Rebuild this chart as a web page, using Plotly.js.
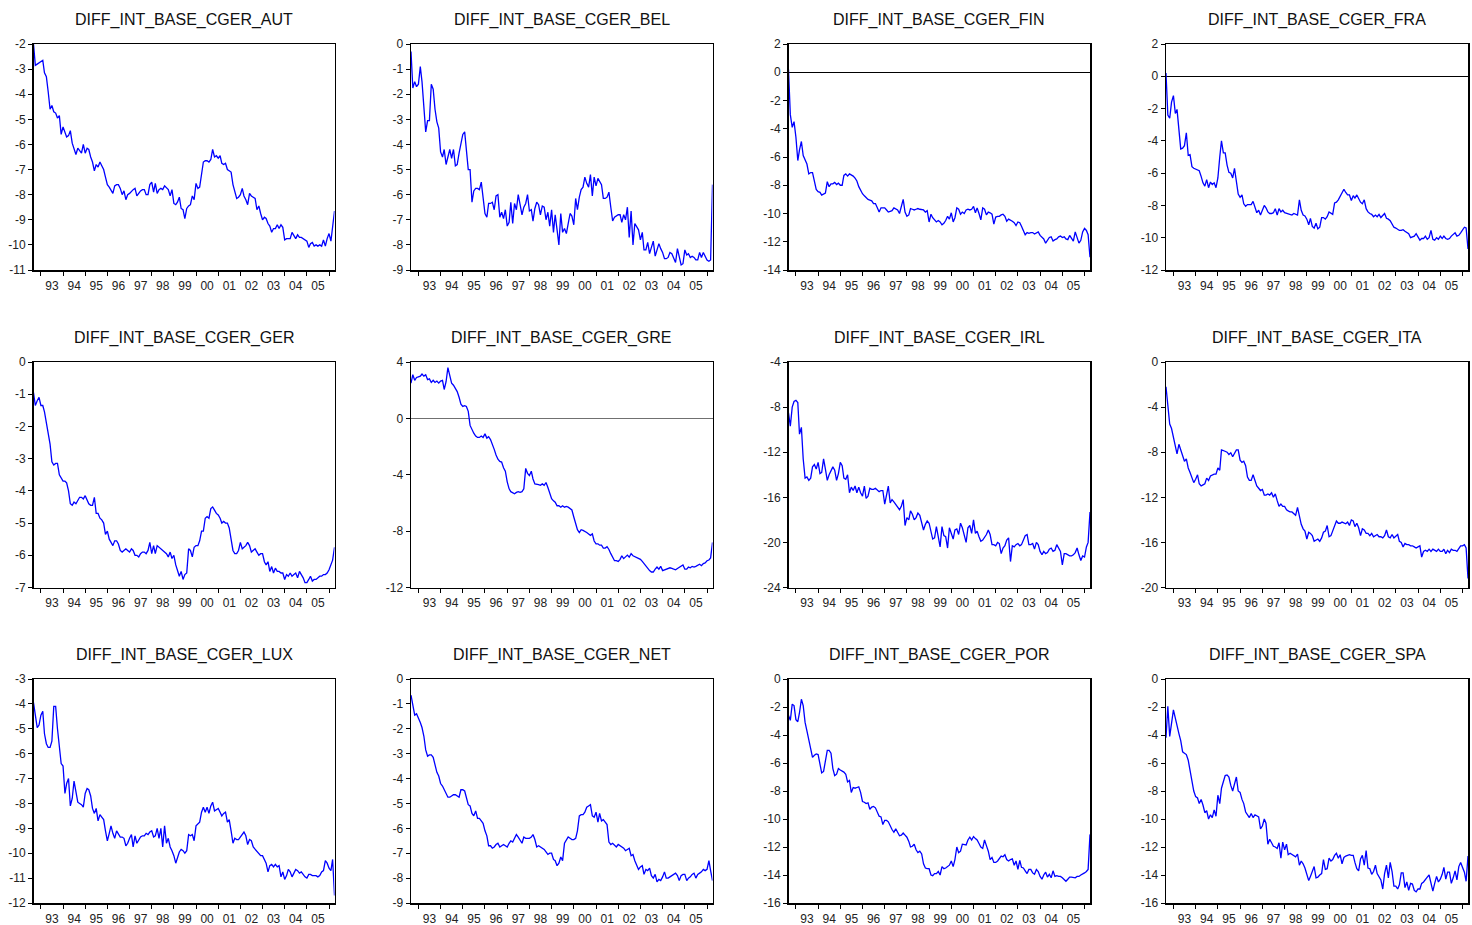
<!DOCTYPE html>
<html>
<head>
<meta charset="utf-8">
<script src="https://cdn.plot.ly/plotly-3.0.1.min.js"></script>
<style>
  html, body { margin: 0; padding: 0; background: #ffffff; }
  #chart { width: 1472px; height: 925px; }
</style>
</head>
<body>
<div id="chart"></div>
<script>
// Monthly sample: 1992M09 .. 2006M04
const START_YEAR = 1992;
const START_MONTH = 9;
const N_OBS = 164;

const countries = ['AUT', 'BEL', 'FIN', 'FRA', 'GER', 'GRE', 'IRL', 'ITA', 'LUX', 'NET', 'POR', 'SPA'];

// Interest differential series, one value per month (one line per calendar year)
const AUT = [
  -2.0, -2.85, -2.8, -2.75,
  -2.7, -2.65, -3.15, -3.3, -3.9, -4.6, -4.45, -4.7, -4.75, -4.95, -4.85, -5.6,
  -5.3, -5.55, -5.7, -5.65, -5.45, -5.95, -6.2, -6.4, -6.15, -6.25, -6.35, -6.0,
  -6.35, -6.15, -6.2, -6.5, -6.7, -7.05, -6.8, -6.9, -6.7, -6.85, -7.0, -7.3,
  -7.6, -7.7, -7.8, -7.95, -7.65, -7.6, -7.6, -7.75, -8.0, -7.85, -8.2, -8.0,
  -7.95, -7.85, -7.8, -7.75, -8.05, -7.95, -7.85, -7.8, -7.8, -8.0, -8.0, -7.6,
  -7.5, -7.9, -7.55, -7.95, -7.8, -7.75, -7.8, -7.65, -7.75, -7.8, -8.05, -7.8,
  -8.35, -8.4, -8.3, -8.1, -8.55, -8.6, -8.95, -8.55, -8.45, -8.4, -8.05, -8.2,
  -7.55, -7.75, -7.7, -7.25, -6.7, -6.65, -6.65, -6.7, -6.6, -6.2, -6.5, -6.45,
  -6.55, -6.45, -6.75, -6.8, -6.75, -7.0, -7.05, -7.1, -7.6, -7.9, -8.15, -8.1,
  -8.0, -7.75, -8.05, -8.2, -8.4, -7.95, -8.05, -8.1, -8.15, -8.6, -8.45, -8.75,
  -9.0, -8.9, -8.95, -9.15, -9.25, -9.5, -9.35, -9.35, -9.2, -9.35, -9.2, -9.3,
  -9.8, -9.75, -9.75, -9.75, -9.5, -9.65, -9.75, -9.6, -9.7, -9.7, -9.75, -9.8,
  -9.85, -10.1, -9.95, -9.9, -10.05, -10.0, -10.05, -10.0, -10.05, -9.8, -10.05, -9.75,
  -9.55, -9.85, -9.3, -8.65
];

const BEL = [
  -0.3, -1.75, -1.5, -1.7,
  -1.6, -0.9, -1.5, -2.5, -3.5, -3.05, -3.05, -1.6, -1.8, -2.6, -3.1, -3.35,
  -4.3, -4.5, -4.2, -4.8, -4.5, -4.2, -4.55, -4.2, -4.85, -4.8, -4.35, -3.9,
  -3.6, -3.5, -4.4, -5.0, -5.0, -6.3, -5.85, -5.75, -5.75, -5.8, -5.5, -6.1,
  -6.75, -6.9, -6.35, -6.35, -6.3, -6.6, -6.05, -6.0, -6.9, -6.7, -6.95, -6.6,
  -7.25, -7.1, -6.3, -7.15, -6.35, -6.6, -6.0, -6.4, -6.8, -6.5, -6.35, -6.0,
  -6.65, -6.6, -7.05, -6.55, -6.3, -6.4, -6.8, -6.45, -6.5, -7.0, -6.7, -7.25,
  -6.6, -7.5, -6.8, -7.4, -8.0, -6.75, -7.5, -7.35, -7.55, -7.15, -6.75, -6.85,
  -7.2, -6.15, -6.6, -6.1, -5.8, -5.7, -5.3, -5.55, -5.7, -5.2, -6.05, -5.3,
  -5.65, -5.35, -5.5, -5.6, -6.15, -6.15, -6.1, -5.9, -6.5, -7.05, -6.9, -6.85,
  -6.8, -6.8, -7.1, -6.8, -7.0, -6.5, -7.7, -6.65, -8.0, -7.15, -7.3, -7.4,
  -7.8, -7.5, -8.2, -8.2, -7.9, -8.35, -8.1, -7.85, -8.45, -8.2, -7.95, -8.15,
  -8.3, -8.55, -8.55, -8.5, -8.3, -8.35, -8.5, -8.7, -8.15, -8.5, -8.8, -8.75,
  -8.2, -8.4, -8.35, -8.5, -8.45, -8.5, -8.6, -8.6, -8.3, -8.5, -8.3, -8.45,
  -8.6, -8.65, -8.6, -5.6
];

const FIN = [
  0.2, -3.0, -3.9, -3.5,
  -4.6, -6.25, -5.5, -4.9, -5.9, -6.2, -6.5, -7.2, -7.1, -7.1, -7.8, -8.3,
  -8.45, -8.5, -8.7, -8.6, -8.55, -7.75, -8.1, -7.9, -7.9, -7.8, -7.95, -7.85,
  -8.0, -8.0, -7.3, -7.2, -7.35, -7.2, -7.25, -7.35, -7.5, -7.7, -8.1, -8.4,
  -8.6, -8.75, -8.9, -9.0, -9.05, -9.1, -9.3, -9.3, -9.6, -9.9, -9.6, -9.6,
  -9.6, -9.75, -9.9, -9.85, -9.8, -9.6, -9.7, -9.75, -10.0, -9.4, -9.0, -9.9,
  -10.2, -10.1, -9.65, -9.7, -9.75, -9.7, -9.65, -9.7, -9.7, -9.75, -9.9, -9.8,
  -10.6, -10.05, -10.3, -10.5, -10.6, -10.5, -10.6, -10.8, -10.7, -10.5, -10.2, -10.4,
  -9.95, -10.6, -10.3, -9.6, -9.7, -10.05, -9.9, -10.0, -9.75, -9.7, -9.75, -9.7,
  -9.5, -9.95, -9.6, -10.0, -10.45, -9.6, -9.7, -10.1, -9.9, -9.95, -10.05, -10.75,
  -10.25, -10.2, -10.2, -10.1, -10.05, -10.2, -10.55, -10.4, -10.45, -10.55, -10.65, -10.85,
  -10.6, -10.65, -10.9, -11.2, -11.5, -11.35, -11.4, -11.35, -11.35, -11.45, -11.35, -11.3,
  -11.55, -11.7, -11.8, -12.1, -11.9, -11.7, -11.65, -11.95, -11.85, -11.8, -11.65, -11.6,
  -11.7, -11.65, -11.8, -11.85, -11.55, -11.8, -11.95, -11.3, -11.8, -12.1, -11.9, -11.3,
  -11.05, -11.2, -11.5, -13.1
];

const FRA = [
  0.2, -2.4, -2.6, -1.6,
  -1.2, -2.3, -2.05, -3.3, -4.5, -4.45, -4.3, -3.5, -4.9, -4.85, -5.6, -5.7,
  -5.75, -5.8, -5.85, -6.2, -6.6, -6.8, -6.4, -6.9, -6.55, -6.7, -6.6, -6.9,
  -6.3, -5.0, -4.0, -4.75, -4.75, -5.5, -5.95, -6.0, -6.3, -5.7, -6.5, -7.3,
  -7.5, -7.35, -7.9, -8.05, -7.95, -7.95, -7.95, -7.75, -8.1, -8.45, -8.3, -8.6,
  -8.3, -8.0, -8.15, -8.4, -8.5, -8.5, -8.45, -8.2, -8.6, -8.2, -8.4, -8.3,
  -8.45, -8.5, -8.55, -8.6, -8.6, -8.5, -8.55, -8.6, -7.65, -8.3, -8.6, -8.65,
  -8.85, -9.2, -8.8, -9.3, -9.4, -9.1, -9.45, -9.35, -8.75, -8.75, -8.85, -8.7,
  -8.4, -8.5, -8.55, -7.85, -7.8, -7.65, -7.45, -7.2, -7.0, -7.2, -7.35, -7.35,
  -7.7, -7.4, -7.55, -7.35, -7.6, -7.8, -7.9, -7.65, -8.2, -8.4, -8.5, -8.55,
  -8.7, -8.6, -8.7, -8.55, -8.75, -8.6, -8.5, -8.8, -8.85, -8.95, -9.2, -9.35,
  -9.4, -9.5, -9.55, -9.55, -9.5, -9.6, -9.65, -9.75, -10.0, -9.95, -9.9, -9.75,
  -9.95, -10.15, -10.05, -10.05, -9.9, -10.1, -10.0, -9.55, -10.1, -10.15, -10.0, -10.1,
  -9.9, -10.05, -9.9, -10.05, -10.1, -10.05, -9.9, -9.8, -9.7, -9.9, -9.85, -9.7,
  -9.5, -9.35, -9.4, -10.7
];

const GER = [
  -0.95, -1.35, -1.2, -1.1,
  -1.35, -1.35, -1.55, -1.9, -2.3, -2.55, -3.1, -3.2, -3.15, -3.15, -3.5, -3.6,
  -3.7, -3.7, -3.75, -4.0, -4.4, -4.45, -4.35, -4.4, -4.3, -4.2, -4.2, -4.25,
  -4.15, -4.3, -4.4, -4.45, -4.45, -4.2, -4.7, -4.7, -4.85, -4.9, -5.0, -5.35,
  -5.25, -5.5, -5.6, -5.7, -5.55, -5.55, -5.65, -5.85, -5.9, -5.85, -5.8, -5.85,
  -5.9, -5.8, -5.85, -6.0, -6.0, -6.05, -5.95, -5.9, -5.9, -5.95, -5.85, -5.6,
  -5.95, -5.7, -5.95, -5.7, -5.75, -5.8, -5.85, -5.9, -5.95, -6.05, -5.9, -6.1,
  -6.0, -6.3, -6.5, -6.65, -6.5, -6.75, -6.6, -6.55, -5.8, -5.85, -6.05, -5.75,
  -5.7, -5.7, -5.55, -5.25, -5.25, -4.85, -4.8, -4.85, -4.55, -4.5, -4.6, -4.7,
  -4.75, -4.85, -5.0, -4.95, -5.0, -5.0, -5.15, -5.5, -5.85, -5.95, -5.95, -5.85,
  -5.6, -5.8, -5.75, -5.7, -5.6, -5.7, -5.9, -5.85, -5.8, -5.9, -6.0, -5.95,
  -5.95, -6.2, -6.3, -6.2, -6.5, -6.35, -6.55, -6.4, -6.5, -6.5, -6.55, -6.55,
  -6.75, -6.6, -6.65, -6.55, -6.65, -6.6, -6.55, -6.7, -6.5, -6.6, -6.7, -6.85,
  -6.85, -6.75, -6.65, -6.8, -6.75, -6.75, -6.7, -6.65, -6.65, -6.6, -6.6, -6.55,
  -6.45, -6.3, -6.15, -5.75
];

const GRE = [
  2.5, 3.1, 2.7, 2.9,
  2.95, 3.0, 3.15, 3.0, 3.1, 2.75, 2.8, 2.55, 2.7, 2.55, 2.65, 2.5,
  2.65, 2.7, 2.05, 2.6, 3.6, 3.0, 2.5, 2.35, 2.1, 1.9, 1.5, 1.0,
  0.85, 0.9, 0.85, 0.5, -0.5, -0.8, -1.05, -1.25, -1.35, -1.35, -1.25, -1.35,
  -1.1, -1.4, -1.3, -1.5, -1.8, -2.2, -2.6, -2.9, -3.05, -3.1, -3.5, -3.75,
  -4.5, -5.0, -5.2, -5.3, -5.35, -5.25, -5.2, -5.25, -5.2, -5.0, -3.55, -3.9,
  -4.05, -3.75, -4.3, -4.65, -4.65, -4.7, -4.75, -4.65, -4.75, -4.55, -4.9, -5.3,
  -5.7, -5.85, -5.95, -6.2, -6.2, -6.3, -6.2, -6.3, -6.25, -6.3, -6.4, -6.5,
  -7.0, -7.5, -7.9, -8.1, -7.9, -7.95, -8.0, -8.1, -8.2, -8.3, -8.2, -8.7,
  -8.9, -8.9, -9.0, -9.0, -9.2, -9.2, -9.1, -9.3, -9.6, -9.9, -10.1, -10.1,
  -10.15, -10.0, -9.75, -9.95, -9.8, -9.7, -9.85, -9.6, -9.75, -9.8, -9.85, -9.9,
  -10.0, -10.15, -10.3, -10.5, -10.65, -10.8, -10.9, -10.9, -10.7, -10.55, -10.7, -10.5,
  -10.8, -10.75, -10.7, -10.7, -10.6, -10.65, -10.7, -10.75, -10.65, -10.55, -10.5, -10.4,
  -10.7, -10.7, -10.55, -10.6, -10.5, -10.55, -10.5, -10.4, -10.35, -10.45, -10.3, -10.25,
  -10.1, -10.05, -9.9, -8.8
];

const IRL = [
  -8.5, -9.7, -8.0, -7.5,
  -7.4, -7.6, -10.4, -9.8, -12.6, -14.3, -14.2, -14.5, -14.3, -13.3, -13.1, -13.5,
  -12.9, -13.9, -13.8, -12.6, -13.5, -14.5, -14.0, -13.6, -13.3, -13.6, -14.5, -13.9,
  -12.9, -13.2, -14.3, -14.4, -14.0, -15.6, -15.1, -15.4, -15.0, -15.6, -15.1, -15.6,
  -15.9, -15.0, -16.1, -15.9, -15.2, -15.3, -15.3, -15.2, -15.4, -15.5, -15.4, -15.4,
  -16.6, -15.6, -15.0, -16.5, -16.2, -16.4, -16.6, -16.8, -17.1, -16.8, -16.2, -18.5,
  -17.8, -18.0, -17.2, -17.5, -18.0, -17.8, -17.4, -17.6, -18.3, -18.9, -18.4, -18.1,
  -18.3, -19.0, -19.7, -19.6, -18.6, -19.5, -20.4, -18.6, -19.4, -19.5, -20.5, -18.7,
  -19.2, -19.7, -18.9, -18.8, -19.3, -18.3, -18.7, -19.3, -20.0, -18.7, -18.5, -19.2,
  -18.0, -19.2, -19.0, -19.5, -19.9, -19.8, -19.6, -19.3, -18.9, -19.3, -20.2, -20.2,
  -20.3, -20.0, -20.1, -21.0, -20.5, -20.3, -19.8, -19.6, -21.7, -20.3, -20.4, -20.2,
  -20.1, -20.3, -20.2, -19.8, -19.4, -19.3, -20.2, -20.2, -20.1, -20.6, -20.0, -20.2,
  -20.8, -21.1, -20.8, -21.0, -20.9, -20.6, -20.5, -20.8, -20.7, -20.2, -20.5, -20.8,
  -22.0, -21.0, -21.0, -21.1, -21.2, -21.2, -21.1, -20.9, -20.5, -21.1, -21.6, -21.2,
  -21.3, -20.4, -20.0, -17.3
];

const ITA = [
  -2.2, -4.2, -5.5, -5.9,
  -6.6, -7.5, -8.15, -7.3, -7.8, -8.2, -8.8, -8.6, -9.4, -9.8, -10.3, -10.7,
  -10.4, -10.0, -10.8, -11.0, -10.9, -10.8, -10.3, -10.5, -10.1, -10.0, -9.95, -9.95,
  -9.4, -9.6, -7.8, -7.85, -7.9, -8.0, -8.2, -8.05, -8.4, -8.1, -7.8, -7.8,
  -8.7, -8.9, -8.8, -9.2, -10.2, -10.5, -10.5, -10.0, -10.6, -11.0, -11.2, -11.4,
  -11.3, -11.8, -11.8, -11.7, -11.8, -11.6, -12.0, -11.7, -12.3, -12.8, -12.6, -12.8,
  -12.8, -13.1, -13.2, -13.3, -13.3, -13.5, -13.6, -12.9, -13.6, -14.4, -14.8, -15.0,
  -15.7, -15.1, -15.2, -15.4, -15.9, -15.8, -15.7, -15.9, -15.6, -15.1, -15.0, -14.5,
  -15.5, -15.4, -15.0, -14.6, -14.1, -14.3, -14.3, -14.2, -14.3, -14.35, -14.2, -14.5,
  -14.0, -14.1, -14.6, -14.3, -14.7, -15.4, -14.8, -14.9, -15.2, -15.2, -15.4, -15.2,
  -15.5, -15.4, -15.3, -15.5, -15.5, -15.6, -15.4, -14.9, -15.5, -15.6, -15.3, -15.6,
  -15.4, -15.3, -15.9, -16.0, -16.4, -16.1, -16.2, -16.2, -16.3, -16.3, -16.4, -16.5,
  -16.4, -16.3, -17.3, -16.8, -16.7, -16.8, -16.6, -16.8, -16.6, -16.7, -16.8, -16.6,
  -16.8, -16.8, -16.6, -17.0, -16.7, -16.9, -16.6, -16.7, -16.7, -16.8, -16.5, -16.3,
  -16.3, -16.2, -16.5, -19.2
];

const LUX = [
  -3.95, -4.5, -4.95, -4.85,
  -4.45, -4.3, -5.2, -5.6, -5.75, -5.75, -5.5, -4.1, -4.1, -5.0, -5.6, -6.4,
  -6.5, -7.6, -7.2, -7.0, -8.1, -7.8, -7.1, -7.6, -7.95, -8.0, -8.05, -8.15,
  -7.6, -7.4, -7.45, -7.7, -8.2, -8.4, -8.2, -8.7, -8.45, -8.55, -8.65, -9.1,
  -9.5, -9.2, -8.9, -9.2, -9.4, -9.1, -9.2, -9.35, -9.35, -9.4, -9.7, -9.6,
  -9.4, -9.25, -9.75, -9.3, -9.6, -9.45, -9.35, -9.3, -9.3, -9.2, -9.25, -9.15,
  -9.1, -9.35, -9.3, -9.0, -9.4, -9.0, -9.75, -8.9, -9.6, -9.4, -9.75, -9.9,
  -10.1, -10.4, -10.15, -9.95, -9.85, -9.9, -10.0, -9.9, -9.25, -9.3, -9.25, -9.5,
  -8.9, -8.8, -8.75, -8.35, -8.15, -8.35, -8.15, -8.4, -8.1, -7.95, -8.3, -8.25,
  -8.2, -8.35, -8.5, -8.4, -8.35, -8.75, -8.65, -9.1, -9.6, -9.4, -9.45, -9.45,
  -9.35, -9.2, -9.15, -9.3, -9.65, -9.45, -9.5, -9.75, -9.85, -9.9, -10.05, -10.1,
  -10.1, -10.25, -10.4, -10.75, -10.5, -10.45, -10.55, -10.45, -10.55, -10.5, -10.95, -10.75,
  -11.05, -10.9, -10.65, -10.75, -10.95, -10.8, -10.65, -10.7, -10.8, -10.75, -10.85, -10.95,
  -11.0, -10.85, -10.85, -10.9, -10.9, -10.9, -10.95, -10.9, -10.75, -10.7, -10.3, -10.4,
  -10.6, -10.7, -10.25, -11.7
];

const NET = [
  -0.65, -1.1, -1.45, -1.4,
  -1.55, -1.75, -1.95, -2.3, -2.85, -3.1, -3.05, -3.05, -3.15, -3.5, -3.75, -3.9,
  -4.2, -4.3, -4.45, -4.55, -4.75, -4.75, -4.7, -4.65, -4.65, -4.7, -4.75, -4.45,
  -4.45, -4.5, -4.75, -5.05, -5.1, -5.4, -5.5, -5.3, -5.6, -5.6, -5.7, -5.8,
  -6.1, -6.3, -6.7, -6.7, -6.8, -6.75, -6.65, -6.6, -6.75, -6.7, -6.65, -6.7,
  -6.75, -6.6, -6.5, -6.55, -6.4, -6.25, -6.35, -6.45, -6.6, -6.35, -6.4, -6.4,
  -6.4, -6.35, -6.25, -6.45, -6.75, -6.7, -6.75, -6.8, -6.85, -6.95, -7.05, -7.0,
  -7.0, -7.25, -7.3, -7.5, -7.4, -7.15, -7.3, -6.6, -6.45, -6.35, -6.4, -6.45,
  -6.45, -6.4, -6.1, -5.5, -5.45, -5.45, -5.35, -5.15, -5.1, -5.05, -5.5, -5.55,
  -5.35, -5.75, -5.4, -5.7, -5.65, -5.75, -5.85, -6.55, -6.65, -6.6, -6.7, -6.75,
  -6.65, -6.7, -6.75, -6.8, -6.9, -6.85, -6.8, -7.1, -7.05, -7.3, -7.5, -7.65,
  -7.55, -7.5, -7.85, -7.65, -7.7, -7.6, -7.9, -8.0, -7.85, -8.15, -8.05, -8.1,
  -7.95, -7.75, -8.0, -8.0, -7.95, -7.9, -7.85, -7.8, -7.9, -8.1, -7.9, -7.85,
  -7.85, -8.1, -8.0, -7.95, -7.85, -7.8, -8.0, -7.85, -7.8, -7.75, -7.65, -7.7,
  -7.65, -7.3, -7.7, -8.1
];

const POR = [
  -2.6, -2.95, -1.8, -1.9,
  -2.9, -3.05, -2.4, -1.45, -1.9, -3.1, -3.7, -4.3, -5.0, -5.6, -5.45, -5.35,
  -5.4, -6.0, -6.7, -6.6, -5.7, -5.1, -5.1, -5.3, -6.4, -6.9, -6.8, -6.4,
  -6.5, -6.55, -6.65, -6.8, -7.35, -7.25, -8.1, -7.75, -7.8, -7.75, -7.7, -8.1,
  -8.75, -8.8, -8.9, -8.85, -9.3, -9.15, -9.1, -9.2, -9.5, -9.8, -9.85, -10.4,
  -10.1, -10.1, -10.2, -10.5, -10.75, -10.95, -10.7, -10.95, -11.2, -11.15, -11.0, -11.15,
  -11.3, -11.6, -12.0, -11.95, -11.8, -12.2, -12.4, -12.3, -12.5, -13.2, -13.5, -13.55,
  -13.55, -14.0, -14.05, -13.9, -13.9, -13.75, -14.0, -13.4, -13.55, -13.5, -13.4, -13.3,
  -13.0, -13.4, -12.9, -12.0, -12.4, -12.3, -11.8, -11.8, -11.85, -11.5, -11.3, -11.5,
  -11.25, -11.4, -11.5, -11.75, -12.0, -12.1, -11.5, -11.9, -12.3, -12.9, -12.75, -13.1,
  -13.1, -13.0, -12.8, -12.65, -12.7, -12.55, -12.9, -13.0, -12.9, -12.85, -13.3, -13.0,
  -13.6, -12.95, -13.45, -13.5, -13.7, -13.9, -13.6, -13.6, -13.85, -13.95, -13.6, -13.75,
  -14.1, -14.3, -14.0, -13.8, -14.15, -13.95, -14.2, -13.7, -14.1, -14.05, -14.1, -14.1,
  -14.2, -14.3, -14.45, -14.3, -14.15, -14.15, -14.2, -14.2, -14.1, -14.1, -14.0, -13.95,
  -13.85, -13.75, -13.6, -11.1
];

const SPA = [
  -4.2, -1.95, -4.1, -3.0,
  -2.2, -2.8, -3.4, -3.9, -4.4, -5.2, -5.3, -5.4, -5.8, -6.5, -7.3, -8.0,
  -8.4, -8.5, -8.9, -8.6, -9.0, -9.55, -9.4, -10.0, -9.7, -9.9, -9.35, -9.8,
  -8.3, -8.9, -7.8, -7.3, -6.9, -6.85, -7.0, -7.6, -8.0, -7.5, -7.0, -8.0,
  -8.1, -8.6, -8.9, -9.5, -9.75, -9.9, -9.6, -9.9, -9.7, -9.8, -9.85, -10.7,
  -10.5, -10.0, -10.3, -11.8, -11.45, -11.7, -11.95, -12.0, -12.1, -11.7, -12.8, -11.65,
  -12.2, -11.8, -12.55, -12.45, -12.55, -12.65, -12.7, -12.5, -13.3, -13.0, -13.2, -13.5,
  -14.0, -14.4, -14.1, -13.75, -13.4, -14.2, -14.15, -14.0, -13.9, -12.9, -13.6, -13.55,
  -12.8, -13.0, -12.9, -12.6, -12.45, -12.8, -12.55, -13.2, -12.75, -12.65, -12.6, -12.55,
  -12.6, -12.6, -13.1, -13.55, -13.7, -12.85, -12.6, -13.3, -12.25, -13.5, -13.55, -13.95,
  -13.75, -13.3, -13.9, -14.1, -14.35, -15.0, -13.9, -13.3, -14.2, -13.1, -13.75, -14.8,
  -14.8, -15.0, -14.7, -13.85, -13.85, -14.9, -14.5, -15.1, -14.6, -14.65, -15.1, -15.2,
  -15.0, -15.0, -14.6, -14.5, -14.3, -14.15, -14.0, -14.6, -15.15, -14.6, -14.1, -14.5,
  -14.3, -13.95, -13.45, -14.3, -13.8, -13.8, -14.6, -14.2, -13.7, -14.35, -13.4, -13.1,
  -13.4, -13.8, -14.45, -12.65
];

const series = [AUT, BEL, FIN, FRA, GER, GRE, IRL, ITA, LUX, NET, POR, SPA];

// Vertical scale of each panel: [min, max, step]
const yScales = [
  [-11, -2, 1], [-9, 0, 1], [-14, 2, 2], [-12, 2, 2],
  [-7, 0, 1], [-12, 4, 4], [-24, -4, 4], [-20, 0, 4],
  [-12, -3, 1], [-9, 0, 1], [-16, 0, 2], [-16, 0, 2]
];
// Panels whose range straddles zero get a reference line at 0
const zeroLine = [false, false, true, true, false, true, false, false, false, false, false, false];

// Month dates for the sample
const months = [];
for (let k = 0; k < N_OBS; k++) {
  const m = START_MONTH - 1 + k;
  const yr = START_YEAR + Math.floor(m / 12);
  const mo = (m % 12) + 1;
  months.push(yr + '-' + String(mo).padStart(2, '0') + '-01');
}

// Panel geometry in pixels (4 columns x 3 rows)
const W = 1472, H = 925;
const colPx = [[33.5, 334.5], [411, 712.5], [788.5, 1090], [1166, 1468]];
const rowPx = [[44, 270], [362, 587.5], [679, 903]];
const titleY = [20, 337.5, 655];

const FONT = '"Liberation Sans", Arial, Helvetica, sans-serif';

const traces = [];
const layout = {
  width: W, height: H,
  margin: { l: 0, r: 0, t: 0, b: 0 },
  paper_bgcolor: '#ffffff',
  plot_bgcolor: '#ffffff',
  showlegend: false,
  font: { family: FONT, size: 12, color: '#222' },
  annotations: []
};

countries.forEach((code, k) => {
  const row = Math.floor(k / 4), col = k % 4;
  const sfx = k === 0 ? '' : String(k + 1);
  const [ymin, ymax, ystep] = yScales[k];

  traces.push({
    type: 'scatter', mode: 'lines',
    x: months, y: series[k],
    xaxis: 'x' + sfx, yaxis: 'y' + sfx,
    line: { color: '#0000ff', width: 1.3 },
    hoverinfo: 'x+y'
  });

  const tickvals = [], ticktext = [];
  for (let v = ymin; v <= ymax + 1e-9; v += ystep) {
    tickvals.push(v);
    ticktext.push(String(v));
  }

  layout['xaxis' + sfx] = {
    domain: [colPx[col][0] / W, colPx[col][1] / W],
    anchor: 'y' + sfx,
    type: 'date',
    range: [months[0], months[N_OBS - 1]],
    dtick: 'M12', tick0: '1993-01-01',
    ticklabelmode: 'period', tickformat: '%y',
    ticks: 'outside', ticklen: 4, tickwidth: 1, tickcolor: '#000',
    tickfont: { family: FONT, size: 12, color: '#222' },
    showline: true, linecolor: '#000', linewidth: 1.5, mirror: true,
    showgrid: false, zeroline: false, fixedrange: true
  };
  layout['yaxis' + sfx] = {
    domain: [1 - rowPx[row][1] / H, 1 - rowPx[row][0] / H],
    anchor: 'x' + sfx,
    range: [ymin, ymax],
    tickmode: 'array', tickvals: tickvals, ticktext: ticktext,
    ticks: 'outside', ticklen: 4, tickwidth: 1, tickcolor: '#000',
    tickfont: { family: FONT, size: 12, color: '#222' },
    showline: true, linecolor: '#000', linewidth: 1.5, mirror: true,
    showgrid: false,
    zeroline: zeroLine[k],
    zerolinecolor: code === 'GRE' ? '#707070' : '#000',
    zerolinewidth: code === 'GRE' ? 1.5 : 1,
    fixedrange: true
  };

  layout.annotations.push({
    xref: 'paper', yref: 'paper',
    x: (colPx[col][0] + colPx[col][1]) / 2 / W,
    y: 1 - titleY[row] / H,
    xanchor: 'center', yanchor: 'middle',
    text: 'DIFF_INT_BASE_CGER_' + code,
    showarrow: false,
    font: { family: FONT, size: 16, color: '#111' }
  });
});

Plotly.newPlot('chart', traces, layout, { displayModeBar: false, staticPlot: true });
</script>
</body>
</html>
